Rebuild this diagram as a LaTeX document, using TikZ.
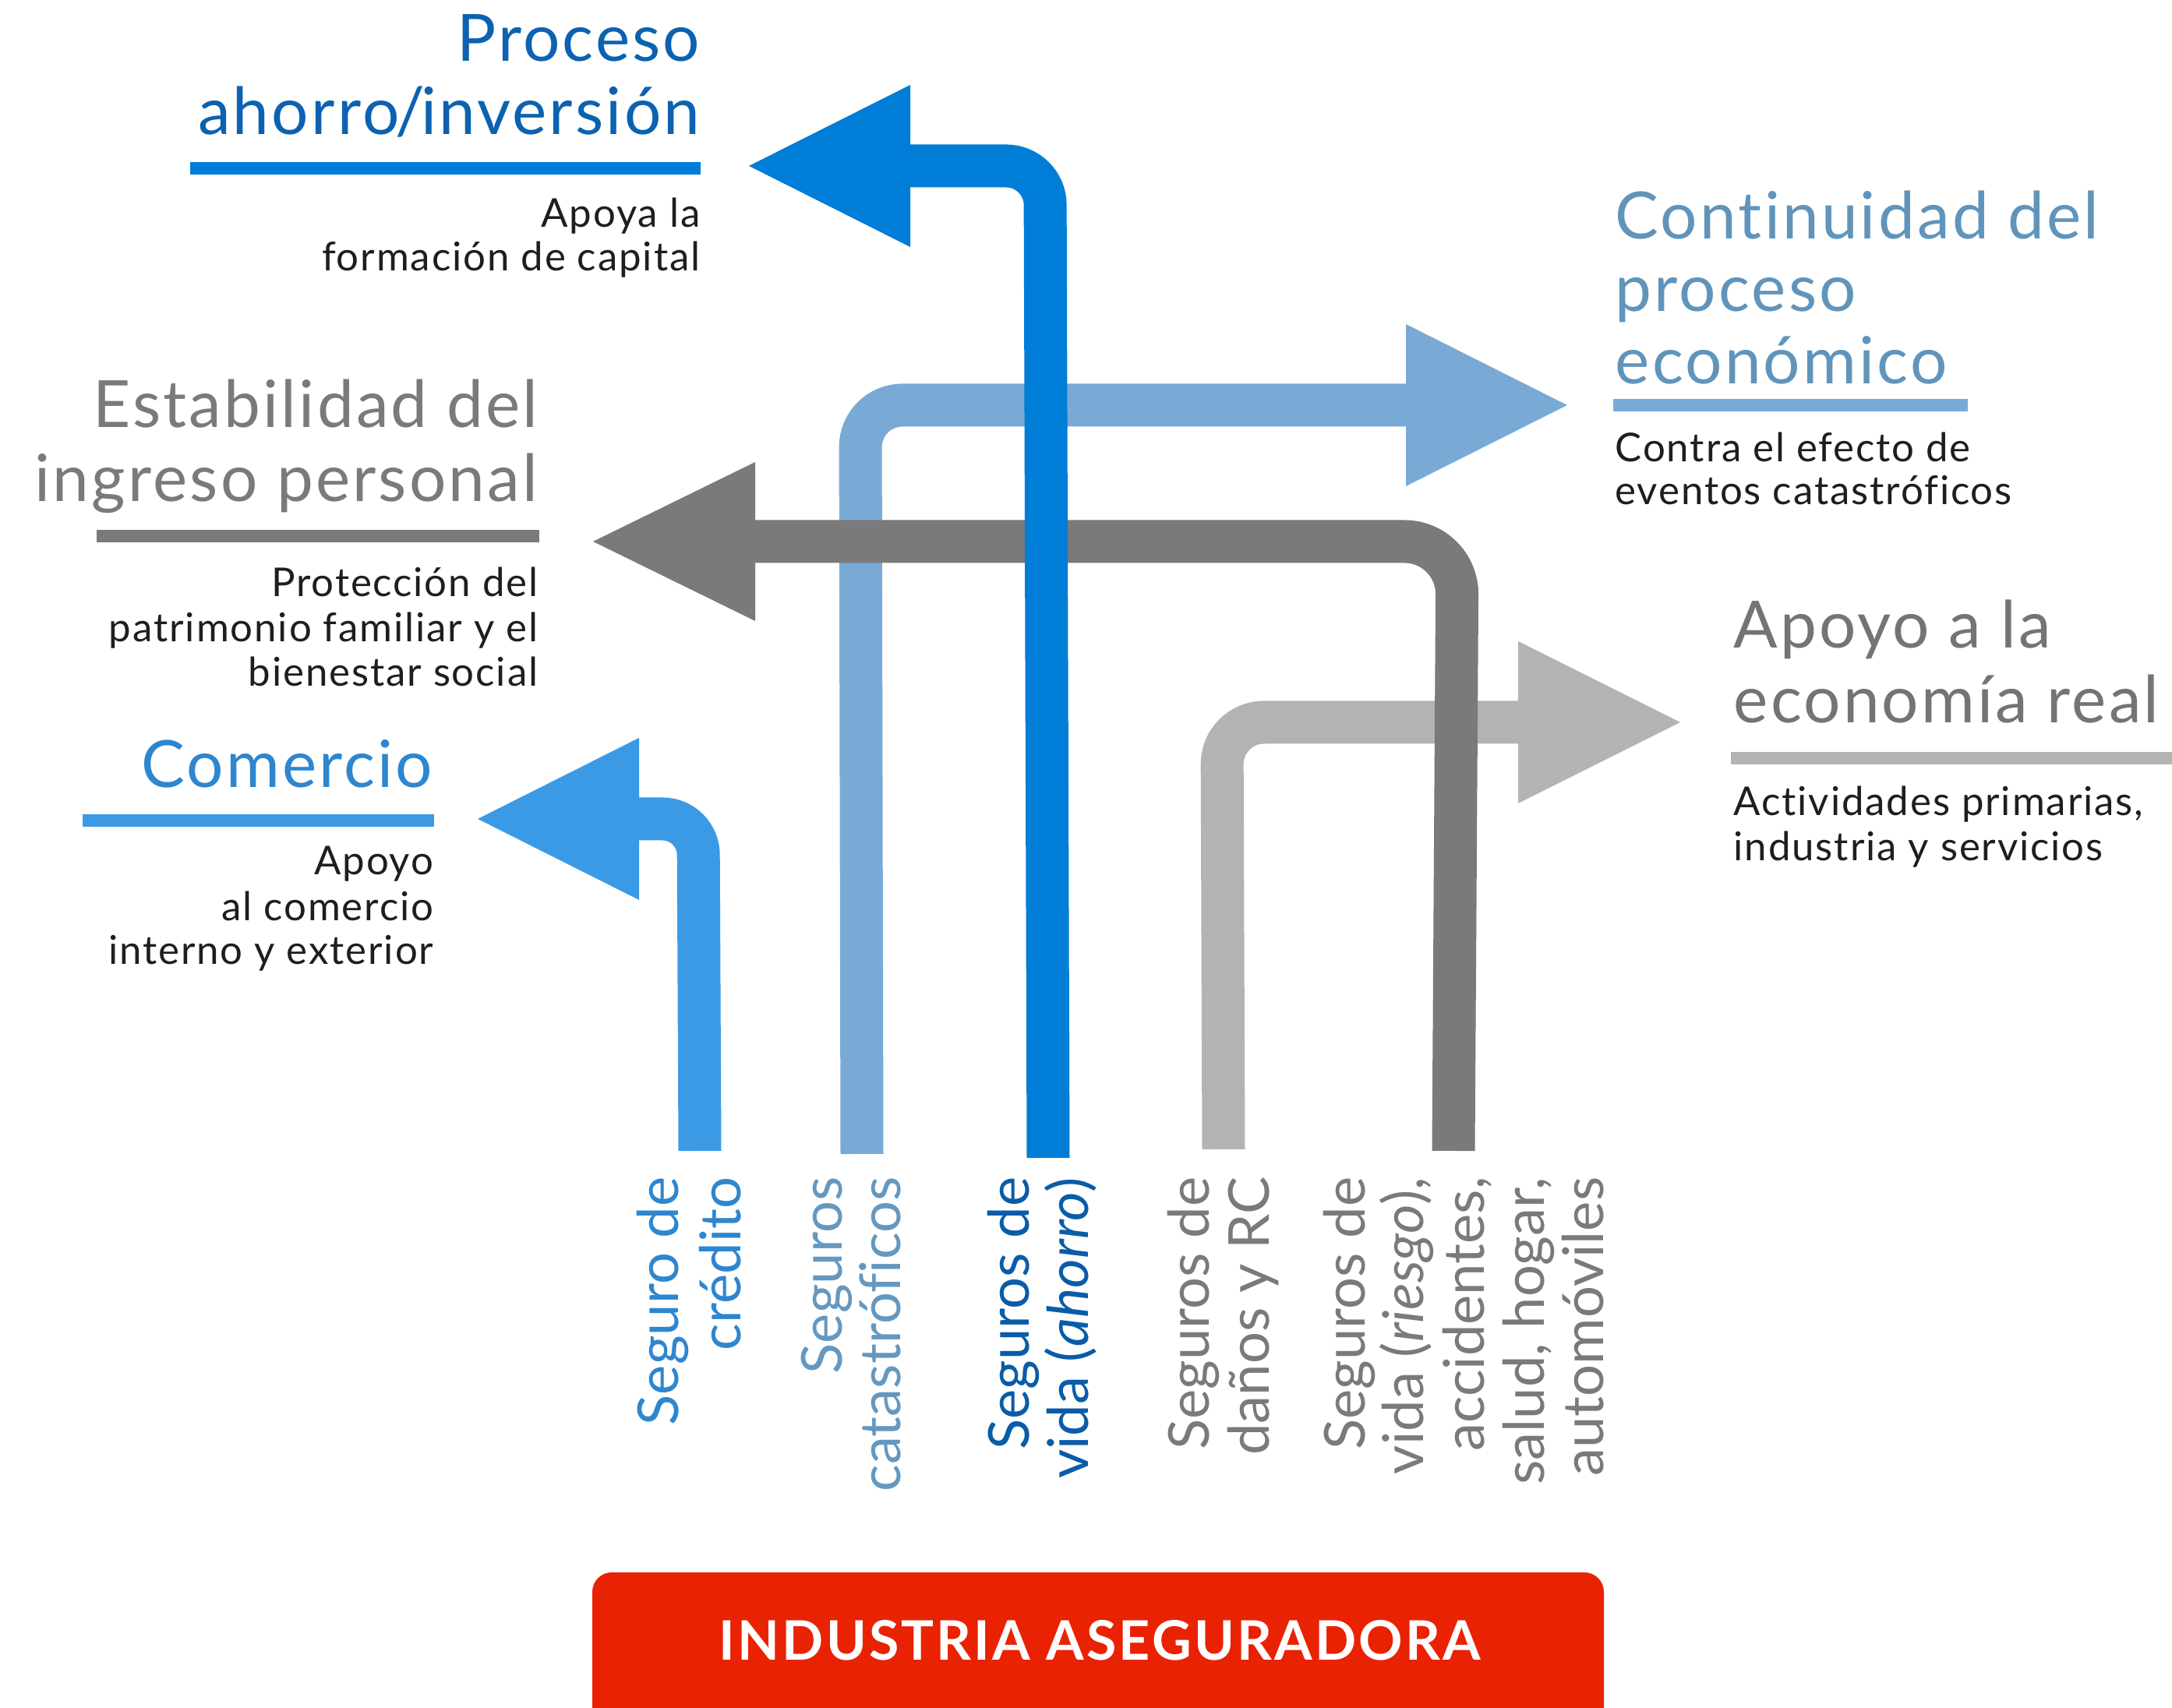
\documentclass[tikz,border=0pt]{standalone}
\usepackage{fontspec}
\setmainfont[Ligatures=NoCommon]{Lato}
\newfontfamily\headfam[LetterSpace=3.8,Ligatures=NoCommon]{Lato}
\newfontfamily\bodyfam[LetterSpace=3.7,Ligatures=NoCommon]{Lato}
\newfontfamily\boxfam[LetterSpace=4.5,Ligatures=NoCommon]{Lato}
\usetikzlibrary{calc}
\definecolor{cA}{RGB}{0,125,215}
\definecolor{cB}{RGB}{121,170,213}
\definecolor{cC}{RGB}{122,122,122}
\definecolor{cD}{RGB}{179,179,179}
\definecolor{cE}{RGB}{58,154,230}
\definecolor{tA}{RGB}{12,98,176}
\definecolor{tB}{RGB}{96,148,187}
\definecolor{tC}{RGB}{122,122,122}
\definecolor{tD}{RGB}{116,116,116}
\definecolor{tE}{RGB}{46,134,207}
\definecolor{vA}{RGB}{10,92,168}
\definecolor{vB}{RGB}{100,152,192}
\definecolor{bodytext}{RGB}{30,30,30}
\definecolor{cRed}{RGB}{234,34,4}
\tikzset{
  shaft/.style={line width=0.55cm},
  headL/.style={inner sep=0pt, anchor=base east, font=\headfam\fontsize{23.8}{26}\selectfont},
  headR/.style={inner sep=0pt, anchor=base west, font=\headfam\fontsize{23.8}{26}\selectfont},
  bodyL/.style={inner sep=0pt, anchor=base east, text=bodytext, font=\bodyfam\fontsize{14.5}{16}\selectfont},
  bodyR/.style={inner sep=0pt, anchor=base west, text=bodytext, font=\bodyfam\fontsize{14.5}{16}\selectfont},
  vlab/.style={inner sep=0pt, rotate=90, anchor=base east, font=\fontsize{20.6}{22}\selectfont},
}
\begin{document}
\begin{tikzpicture}
\useasboundingbox (0,0) rectangle (27.87,21.92);
\clip (0,0) rectangle (27.87,21.92);

% ---- arrow coordinates
\coordinate (Abot) at (13.45,7.06);
\coordinate (Acor) at (13.41,19.79);
\coordinate (Abase) at (11.68,19.79);
\coordinate (Atip) at (9.61,19.79);

\coordinate (Bbot) at (11.06,7.11);
\coordinate (Bcor) at (11.04,16.72);
\coordinate (Bbase) at (18.04,16.72);
\coordinate (Btip) at (20.11,16.72);

\coordinate (Cbot) at (18.65,7.15);
\coordinate (Ccor) at (18.70,14.97);
\coordinate (Cbase) at (9.69,14.97);
\coordinate (Ctip) at (7.61,14.97);

\coordinate (Dbot) at (15.70,7.17);
\coordinate (Dcor) at (15.68,12.65);
\coordinate (Dbase) at (19.48,12.65);
\coordinate (Dtip) at (21.56,12.65);

\coordinate (Ebot) at (8.98,7.15);
\coordinate (Ecor) at (8.96,11.41);
\coordinate (Ebase) at (8.20,11.41);
\coordinate (Etip) at (6.13,11.41);

% ---- arrows (back to front)
\draw[shaft, cB, rounded corners=0.54cm] (Bbot) -- (Bcor) -- ($(Bbase)!0.2!(Btip)$);
\fill[cB] ([yshift=1.04cm]Bbase) -- (Btip) -- ([yshift=-1.04cm]Bbase) -- cycle;

\draw[shaft, cD, rounded corners=0.54cm] (Dbot) -- (Dcor) -- ($(Dbase)!0.2!(Dtip)$);
\fill[cD] ([yshift=1.04cm]Dbase) -- (Dtip) -- ([yshift=-1.04cm]Dbase) -- cycle;

\draw[shaft, cC, rounded corners=0.68cm] (Cbot) -- (Ccor) -- ($(Cbase)!0.2!(Ctip)$);
\fill[cC] ([yshift=1.02cm]Cbase) -- (Ctip) -- ([yshift=-1.02cm]Cbase) -- cycle;

\draw[shaft, cA, rounded corners=0.50cm] (Abot) -- (Acor) -- ($(Abase)!0.2!(Atip)$);
\fill[cA] ([yshift=1.04cm]Abase) -- (Atip) -- ([yshift=-1.04cm]Abase) -- cycle;

\draw[shaft, cE, rounded corners=0.46cm] (Ebot) -- (Ecor) -- ($(Ebase)!0.2!(Etip)$);
\fill[cE] ([yshift=1.04cm]Ebase) -- (Etip) -- ([yshift=-1.04cm]Ebase) -- cycle;

% ---- Proceso ahorro/inversion
\node[headL, text=tA] (pA1) at (8.99,21.13) {Proceso};
\node[headL, text=tA] (pA2) at (8.99,20.19) {ahorro\kern-0.06em/\kern-0.06em inversión};
\fill[cA] (2.44,19.68) rectangle (8.99,19.84);
\node[bodyL] (pA3) at (8.99,19.00) {Apoya la};
\node[bodyL] (pA4) at (8.99,18.44) {formación de capital};

% ---- Estabilidad
\node[headL, text=tC] (pC1) at (6.91,16.43) {Estabilidad del};
\node[headL, text=tC] (pC2) at (6.91,15.48) {ingreso personal};
\fill[cC] (1.24,14.96) rectangle (6.92,15.12);
\node[bodyL] (pC3) at (6.91,14.26) {Protección del};
\node[bodyL] (pC4) at (6.91,13.68) {patrimonio familiar y el};
\node[bodyL] (pC5) at (6.91,13.11) {bienestar social};

% ---- Comercio
\node[headL, text=tE] (pE1) at (5.56,11.81) {Comercio};
\fill[cE] (1.06,11.31) rectangle (5.57,11.47);
\node[bodyL] (pE2) at (5.57,10.69) {Apoyo};
\node[bodyL] (pE3) at (5.57,10.10) {al comercio};
\node[bodyL] (pE4) at (5.57,9.54) {interno y exterior};

% ---- Continuidad
\node[headR, text=tB] (pB1) at (20.72,18.85) {Continuidad del};
\node[headR, text=tB] (pB2) at (20.72,17.92) {proceso};
\node[headR, text=tB] (pB3) at (20.72,16.99) {económico};
\fill[cB] (20.70,16.64) rectangle (25.25,16.80);
\node[bodyR] (pB4) at (20.72,15.99) {Contra el efecto de};
\node[bodyR] (pB5) at (20.72,15.44) {eventos catastróficos};

% ---- Apoyo a la economia real
\node[headR, text=tD] (pD1) at (22.24,13.60) {Apoyo a la};
\node[headR, text=tD] (pD2) at (22.24,12.64) {economía real};
\fill[cD] (22.21,12.11) rectangle (28.00,12.27);
\node[bodyR] (pD3) at (22.24,11.45) {Actividades primarias,};
\node[bodyR] (pD4) at (22.24,10.87) {industria y servicios};

% ---- vertical labels
\node[vlab, text=tE] (lE1) at (8.70,6.82) {Seguro de};
\node[vlab, text=tE] (lE2) at (9.50,6.82) {crédito};
\node[vlab, text=vB] (lB1) at (10.80,6.82) {Seguros};
\node[vlab, text=vB] (lB2) at (11.55,6.82) {catastróficos};
\node[vlab, text=vA] (lA1) at (13.20,6.82) {Seguros de};
\node[vlab, text=vA] (lA2) at (13.96,6.82) {vida (\textit{ahorro})};
\node[vlab, text=tC] (lD1) at (15.51,6.82) {Seguros de};
\node[vlab, text=tC] (lD2) at (16.28,6.82) {daños y RC};
\node[vlab, text=tC] (lC1) at (17.51,6.82) {Seguros de};
\node[vlab, text=tC] (lC2) at (18.26,6.82) {vida (\textit{riesgo}),};
\node[vlab, text=tC] (lC3) at (19.04,6.82) {accidentes,};
\node[vlab, text=tC] (lC4) at (19.81,6.82) {salud, hogar,};
\node[vlab, text=tC] (lC5) at (20.57,6.82) {automóviles};

% ---- Industria aseguradora
\fill[cRed, rounded corners=0.25cm] (7.60,-0.6) rectangle (20.58,1.74);
\node[inner sep=0pt, anchor=base, text=white, font=\boxfam\fontsize{19.9}{22}\selectfont\bfseries] (ind) at (14.11,0.61) {INDUSTRIA ASEGURADORA};
\end{tikzpicture}
\end{document}
